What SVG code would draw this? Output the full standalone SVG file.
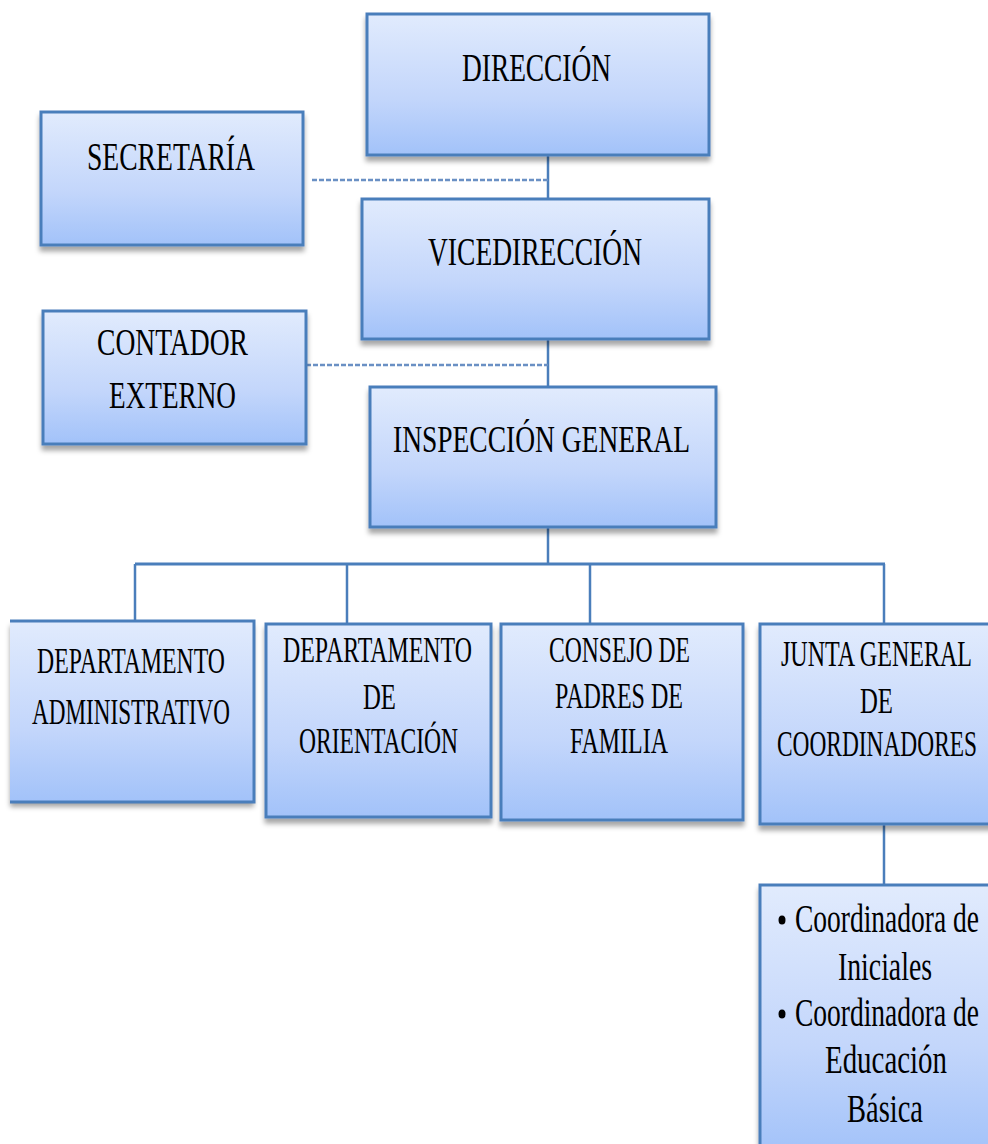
<svg xmlns="http://www.w3.org/2000/svg" width="988" height="1144" viewBox="0 0 988 1144">
<defs>
<linearGradient id="g" x1="0" y1="0" x2="0" y2="1">
<stop offset="0" stop-color="#e1ebfd"/>
<stop offset="0.6" stop-color="#c3d6fb"/>
<stop offset="1" stop-color="#a2c2f9"/>
</linearGradient>
<filter id="sh" x="-10%" y="-10%" width="120%" height="130%">
<feDropShadow dx="0" dy="5" stdDeviation="2.5" flood-color="#000" flood-opacity="0.35"/>
</filter>
</defs>
<style>
.box{fill:url(#g);stroke:#4a7ebb;stroke-width:3;filter:url(#sh)}
.fill{fill:url(#g);stroke:none;filter:url(#sh)}
.edge{fill:none;stroke:#4a7ebb;stroke-width:3}
.ln{fill:none;stroke:#4a7ebb;stroke-width:2.5}
.dash{fill:none;stroke:#6a90c4;stroke-width:2.5;stroke-dasharray:5 2}
text{font-family:"Liberation Serif","Times New Roman",serif;fill:#000}
.t40{font-size:40px}
.t38{font-size:38px}
.t36{font-size:36px}
</style>
<g id="connectors">
<line class="ln" x1="548" y1="146" x2="548" y2="206"/>
<line class="dash" x1="312" y1="180" x2="548" y2="180"/>
<line class="ln" x1="548" y1="339" x2="548" y2="392"/>
<line class="dash" x1="306" y1="365" x2="548" y2="365"/>
<line class="ln" x1="548" y1="527" x2="548" y2="564"/>
<line class="edge" x1="135" y1="564" x2="885" y2="564"/>
<line class="ln" x1="135" y1="564" x2="135" y2="621"/>
<line class="ln" x1="347" y1="564" x2="347" y2="624"/>
<line class="ln" x1="590" y1="564" x2="590" y2="624"/>
<line class="ln" x1="884" y1="564" x2="884" y2="624"/>
<line class="ln" x1="884" y1="824" x2="884" y2="890"/>
</g>
<g id="direccion">
<rect class="box" x="367" y="14" width="342" height="141"/>
<text class="t40" x="462" y="81" textLength="149" lengthAdjust="spacingAndGlyphs">DIRECCIÓN</text>
</g>
<g id="secretaria">
<rect class="box" x="41" y="112" width="262" height="133"/>
<text class="t40" x="87" y="170" textLength="168" lengthAdjust="spacingAndGlyphs">SECRETARÍA</text>
</g>
<g id="vicedireccion">
<rect class="box" x="362" y="199" width="347" height="140"/>
<text class="t40" x="428" y="265" textLength="214" lengthAdjust="spacingAndGlyphs">VICEDIRECCIÓN</text>
</g>
<g id="contador">
<rect class="box" x="43" y="311" width="263" height="133"/>
<text class="t38" x="97" y="355" textLength="151" lengthAdjust="spacingAndGlyphs">CONTADOR</text>
<text class="t38" x="109" y="408" textLength="127" lengthAdjust="spacingAndGlyphs">EXTERNO</text>
</g>
<g id="inspeccion">
<rect class="box" x="370" y="387" width="346" height="140"/>
<text class="t38" x="393" y="452" textLength="297" lengthAdjust="spacingAndGlyphs">INSPECCIÓN GENERAL</text>
</g>
<g id="dep-admin">
<rect class="fill" x="10" y="621" width="244" height="181"/>
<path class="edge" d="M10 621H254V802H10"/>
<text class="t36" x="37" y="673" textLength="188" lengthAdjust="spacingAndGlyphs">DEPARTAMENTO</text>
<text class="t36" x="32" y="724" textLength="198" lengthAdjust="spacingAndGlyphs">ADMINISTRATIVO</text>
</g>
<g id="dep-orient">
<rect class="box" x="266" y="624" width="225" height="193"/>
<text class="t36" x="283" y="662" textLength="189" lengthAdjust="spacingAndGlyphs">DEPARTAMENTO</text>
<text class="t36" x="363" y="709" textLength="33" lengthAdjust="spacingAndGlyphs">DE</text>
<text class="t36" x="299" y="753" textLength="159" lengthAdjust="spacingAndGlyphs">ORIENTACIÓN</text>
</g>
<g id="consejo">
<rect class="box" x="501" y="624" width="242" height="196"/>
<text class="t36" x="549" y="662" textLength="141" lengthAdjust="spacingAndGlyphs">CONSEJO DE</text>
<text class="t36" x="555" y="708" textLength="128" lengthAdjust="spacingAndGlyphs">PADRES DE</text>
<text class="t36" x="570" y="753" textLength="98" lengthAdjust="spacingAndGlyphs">FAMILIA</text>
</g>
<g id="junta">
<rect class="box" x="760" y="624" width="240" height="200"/>
<text class="t36" x="781" y="666" textLength="191" lengthAdjust="spacingAndGlyphs">JUNTA GENERAL</text>
<text class="t36" x="860" y="713" textLength="33" lengthAdjust="spacingAndGlyphs">DE</text>
<text class="t36" x="777" y="756" textLength="200" lengthAdjust="spacingAndGlyphs">COORDINADORES</text>
</g>
<g id="coordinadoras">
<rect class="box" x="760" y="885" width="240" height="270"/>
<ellipse cx="782" cy="920" rx="3.5" ry="4.5" fill="#000"/>
<text class="t40" x="795" y="932" textLength="184" lengthAdjust="spacingAndGlyphs">Coordinadora de</text>
<text class="t40" x="838" y="980" textLength="94" lengthAdjust="spacingAndGlyphs">Iniciales</text>
<ellipse cx="782" cy="1014" rx="3.5" ry="4.5" fill="#000"/>
<text class="t40" x="795" y="1026" textLength="184" lengthAdjust="spacingAndGlyphs">Coordinadora de</text>
<text class="t40" x="825" y="1073" textLength="122" lengthAdjust="spacingAndGlyphs">Educación</text>
<text class="t40" x="847" y="1122" textLength="76" lengthAdjust="spacingAndGlyphs">Básica</text>
</g>
</svg>
